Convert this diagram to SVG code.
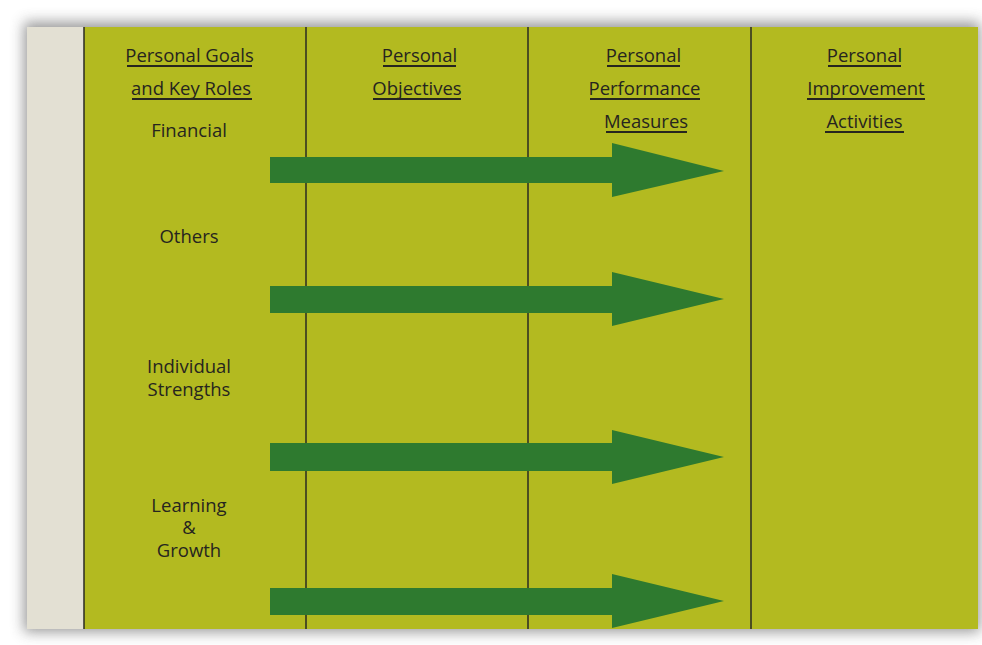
<svg xmlns="http://www.w3.org/2000/svg" width="982" height="645" viewBox="0 0 982 645">
<defs>
<filter id="sh" x="-10%" y="-10%" width="120%" height="120%">
<feGaussianBlur stdDeviation="7"/>
</filter>
<style>
text{font-family:"Open Sans","Liberation Sans",sans-serif;font-size:18.5px;fill:#26251f;text-anchor:middle}
.ul{stroke:#26251f;stroke-width:2.2}
.col{stroke:#2a2a22;stroke-width:1.5}
.arr{fill:#2e7a2f}
</style>
</defs>
<rect width="982" height="645" fill="#ffffff"/>
<rect x="24" y="22" width="956" height="610" fill="#555" opacity="0.6" filter="url(#sh)"/>
<g id="panel">
<rect x="27" y="27" width="57" height="602" fill="#e3e0d3"/>
<rect x="84" y="27" width="894" height="602" fill="#b3ba20"/>
</g>
<g id="columns">
<line class="col" x1="84" y1="27" x2="84" y2="629"/>
<line class="col" x1="306" y1="27" x2="306" y2="629"/>
<line class="col" x1="528" y1="27" x2="528" y2="629"/>
<line class="col" x1="751" y1="27" x2="751" y2="629"/>
</g>
<g id="header1">
<text x="189.5" y="62">Personal Goals</text>
<line class="ul" x1="127" y1="66" x2="252" y2="66"/>
<text x="191" y="95">and Key Roles</text>
<line class="ul" x1="132" y1="99" x2="252" y2="99"/>
</g>
<g id="header2">
<text x="419.5" y="62">Personal</text>
<line class="ul" x1="383" y1="66" x2="456" y2="66"/>
<text x="417" y="95">Objectives</text>
<line class="ul" x1="373" y1="99" x2="461" y2="99"/>
</g>
<g id="header3">
<text x="643.5" y="62">Personal</text>
<line class="ul" x1="607" y1="66" x2="680" y2="66"/>
<text x="644.5" y="95">Performance</text>
<line class="ul" x1="590" y1="99" x2="700" y2="99"/>
<text x="646" y="128">Measures</text>
<line class="ul" x1="606" y1="132" x2="687" y2="132"/>
</g>
<g id="header4">
<text x="864.5" y="62">Personal</text>
<line class="ul" x1="828" y1="66" x2="901" y2="66"/>
<text x="866" y="95">Improvement</text>
<line class="ul" x1="807" y1="99" x2="925" y2="99"/>
<text x="864.5" y="128">Activities</text>
<line class="ul" x1="825" y1="132" x2="904" y2="132"/>
</g>
<g id="financial"><text x="189" y="137">Financial</text></g>
<g id="others"><text x="189" y="243">Others</text></g>
<g id="strengths"><text x="189" y="373">Individual</text><text x="189" y="396">Strengths</text></g>
<g id="learning"><text x="189" y="512">Learning</text><text x="189" y="534">&amp;</text><text x="189" y="557">Growth</text></g>
<g id="connectors">
<polygon class="arr" points="270,157 612,157 612,143 724,171 612,197 612,183 270,183"/>
<polygon class="arr" points="270,286 612,286 612,272 724,299 612,326 612,313 270,313"/>
<polygon class="arr" points="270,443 612,443 612,430 724,457 612,484 612,471 270,471"/>
<polygon class="arr" points="270,588 612,588 612,574 724,601 612,628 612,615 270,615"/>
</g>
</svg>
